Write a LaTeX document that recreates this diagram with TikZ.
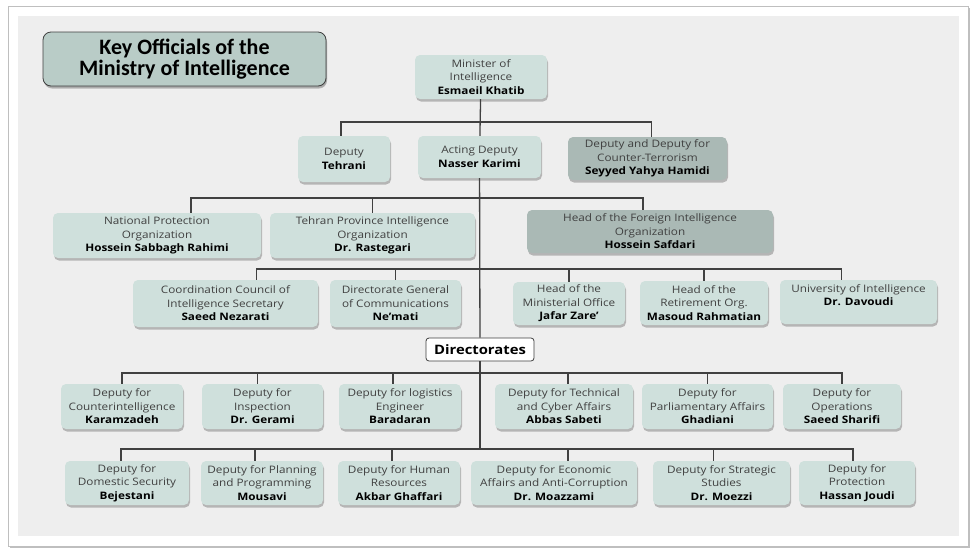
\documentclass[tikz,border=0pt]{standalone}
\usepackage{fontspec}
\setmainfont{Open Sans}[FakeStretch=1.14]
\newfontfamily\headfont{Carlito}
\usetikzlibrary{shadows}
\definecolor{boxfill}{HTML}{CFE0DC}
\definecolor{darkfill}{HTML}{AAB9B5}
\definecolor{titlefill}{HTML}{B9CCC7}
\definecolor{panel}{HTML}{EEEEEE}
\definecolor{ink}{HTML}{404040}
\newcommand{\who}[1]{\textbf{\color{black}#1}}
\tikzset{size/.style 2 args={minimum width=#1, minimum height=#2}}
\begin{document}
\begin{tikzpicture}[x=1pt, y=-1pt,
    office/.style={rounded corners=5pt, fill=boxfill, align=center, text=ink, inner sep=0.5pt,
      font=\fontsize{10.3}{13.5}\selectfont,
      drop shadow={shadow xshift=1pt, shadow yshift=-2.5pt, opacity=0.35, fill=black!70}},
    senior/.style={office, fill=darkfill},
    link/.style={draw=ink, line width=1.3pt}]
   \useasboundingbox (0,0) rectangle (976,555);
   \fill[white] (0,0) rectangle (976,555);
   \draw[black!25, fill=white, drop shadow={shadow xshift=2pt, shadow yshift=-2pt, opacity=0.5}] (8,6) rectangle (968,546);
   \fill[panel] (18,16) rectangle (959,536);

   \node[office, fill=titlefill, draw=ink, thick, rounded corners=8pt, size={283}{54}, text=black,
     font=\headfont\fontsize{22}{21}\selectfont\bfseries, drop shadow={shadow xshift=1pt, shadow yshift=-1.5pt, opacity=0.25}] (TITLE) at (184.5,59) {Key Officials of the\\Ministry of Intelligence};

   \node[office, size={132}{44}] (MIN) at (481,77) {Minister of\\Intelligence\\\who{Esmaeil Khatib}};
   \node[office, size={92}{46}] (DT) at (344,159) {Deputy\\\who{Tehrani}};
   \node[office, size={123}{42}] (AD) at (479.5,157) {Acting Deputy\\\who{Nasser Karimi}};
   \node[senior, size={159}{43}] (CT) at (647.5,158.5) {Deputy and Deputy for\\Counter-Terrorism\\\who{Seyyed Yahya Hamidi}};

   \node[office, size={208}{45}] (NP) at (157,235.5) {National Protection\\Organization\\\who{Hossein Sabbagh Rahimi}};
   \node[office, size={205}{45}] (TP) at (372.5,235.5) {Tehran Province Intelligence\\Organization\\\who{Dr. Rastegari}};
   \node[senior, size={246}{43}] (FI) at (650,231.5) {Head of the Foreign Intelligence\\Organization\\\who{Hossein Safdari}};

   \node[office, size={185}{47}] (CC) at (225.5,303.5) {Coordination Council of\\Intelligence Secretary\\\who{Saeed Nezarati}};
   \node[office, size={131}{47}] (DG) at (395.5,303.5) {Directorate General\\of Communications\\\who{Ne’mati}};
   \node[office, size={112}{43}] (HM) at (569,303.5) {Head of the\\Ministerial Office\\\who{Jafar Zare’}};
   \node[office, size={128}{44}] (RO) at (704,303) {Head of the\\Retirement Org.\\\who{Masoud Rahmatian}};
   \node[office, size={157}{44}] (UI) at (858.5,302) {University of Intelligence\\\who{Dr. Davoudi}\\~};

   \node[draw=ink, fill=white, thick, rounded corners=3pt, size={108}{23}, inner sep=1pt,
     font=\fontsize{13}{16}\selectfont\bfseries] (DIR) at (480,349.5) {Directorates};

   \node[office, size={122}{45}] (CI) at (122,406.5) {Deputy for\\Counterintelligence\\\who{Karamzadeh}};
   \node[office, size={121}{45}] (IN) at (262.5,406.5) {Deputy for\\Inspection\\\who{Dr. Gerami}};
   \node[office, size={122}{45}] (LE) at (400,406.5) {Deputy for logistics\\Engineer\\\who{Baradaran}};
   \node[office, size={138}{45}] (TC) at (564,406.5) {Deputy for Technical\\and Cyber Affairs\\\who{Abbas Sabeti}};
   \node[office, size={131}{45}] (PA) at (707.5,406.5) {Deputy for\\Parliamentary Affairs\\\who{Ghadiani}};
   \node[office, size={118}{45}] (OP) at (842,406.5) {Deputy for\\Operations\\\who{Saeed Sharifi}};

   \node[office, size={124}{44}] (DS) at (127,483) {Deputy for\\Domestic Security\\\who{Bejestani}};
   \node[office, size={122}{44}] (PP) at (262,483) {Deputy for Planning\\and Programming\\\who{Mousavi}};
   \node[office, size={122}{44}] (HU) at (399,483) {Deputy for Human\\Resources\\\who{Akbar Ghaffari}};
   \node[office, size={166}{44}] (EA) at (554,483) {Deputy for Economic\\Affairs and Anti-Corruption\\\who{Dr. Moazzami}};
   \node[office, size={137}{44}] (SS) at (721.5,483) {Deputy for Strategic\\Studies\\\who{Dr. Moezzi}};
   \node[office, size={116}{44}] (PR) at (857,483) {Deputy for\\Protection\\\who{Hassan Joudi}};

   \coordinate (b1) at (480,122);
   \coordinate (b2) at (480,198);
   \coordinate (b3) at (480,269);
   \coordinate (b4) at (480,373);
   \coordinate (b5) at (480,449);

   \draw[link] (MIN) -- (AD);
   \draw[link] ([xshift=-3pt]DT.north) |- (b1) -| ([xshift=4pt]CT.north);
   \draw[link] (AD) -- (DIR);
   \draw[link] (DIR) -- (b5);

   \draw[link] ([xshift=34pt]NP.north) |- (b2) -| ([xshift=-7pt]FI.north);
   \draw[link] (TP.north) -- (TP.north |- b2);

   \draw[link] ([xshift=31pt]CC.north) |- (b3) -| ([xshift=-17pt]UI.north);
   \draw[link] (DG.north) -- (DG.north |- b3);
   \draw[link] (HM.north) -- (HM.north |- b3);
   \draw[link] (RO.north) -- (RO.north |- b3);

   \draw[link] (CI.north) |- (b4) -| (OP.north);
   \draw[link] ([xshift=-5pt]IN.north) -- ([xshift=-5pt]IN.north |- b4);
   \draw[link] ([xshift=-7pt]LE.north) -- ([xshift=-7pt]LE.north |- b4);
   \draw[link] ([xshift=4pt]TC.north) -- ([xshift=4pt]TC.north |- b4);
   \draw[link] (PA.north) -- (PA.north |- b4);

   \draw[link] ([xshift=-6pt]DS.north) |- (b5) -| ([xshift=-4pt]PR.north);
   \draw[link] ([xshift=-7pt]PP.north) -- ([xshift=-7pt]PP.north |- b5);
   \draw[link] ([xshift=-7pt]HU.north) -- ([xshift=-7pt]HU.north |- b5);
   \draw[link] ([xshift=14pt]EA.north) -- ([xshift=14pt]EA.north |- b5);
   \draw[link] ([xshift=-8pt]SS.north) -- ([xshift=-8pt]SS.north |- b5);
 \end{tikzpicture}
\end{document}
